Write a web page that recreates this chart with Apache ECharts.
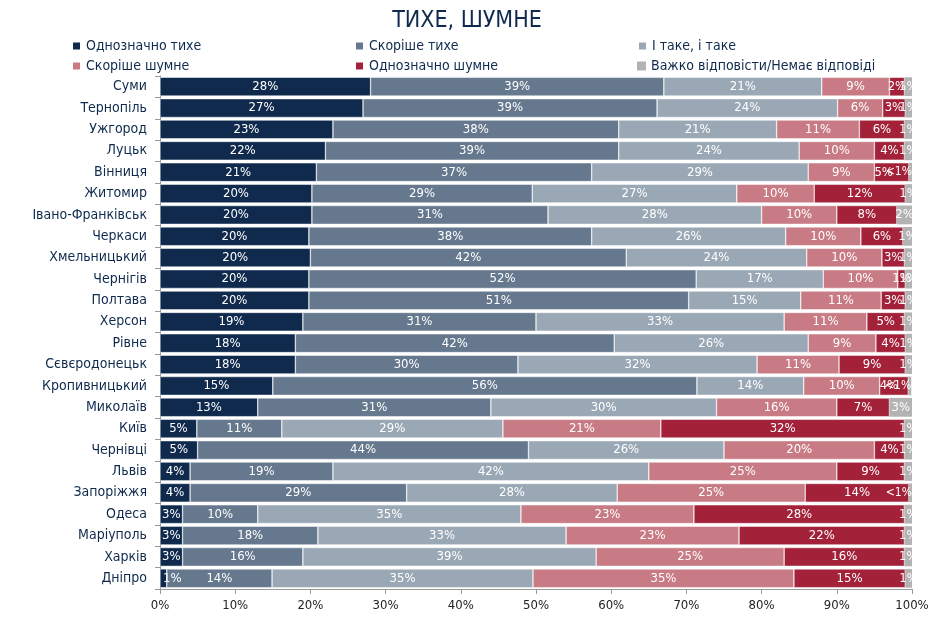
<!DOCTYPE html>
<html><head><meta charset="utf-8">
<script src="https://cdn.jsdelivr.net/npm/echarts@6/dist/echarts.min.js"></script>
<style>html,body{margin:0;padding:0;background:#fff}#c{width:934px;height:618px}</style>
</head><body><div id="c"></div>
<script>
const cities = ["Суми","Тернопіль","Ужгород","Луцьк","Вінниця","Житомир","Івано-Франківськ","Черкаси","Хмельницький","Чернігів","Полтава","Херсон","Рівне","Сєвєродонецьк","Кропивницький","Миколаїв","Київ","Чернівці","Львів","Запоріжжя","Одеса","Маріуполь","Харків","Дніпро"];
const seriesNames = ["Однозначно тихе","Скоріше тихе","І таке, і таке","Скоріше шумне","Однозначно шумне","Важко відповісти/Немає відповіді"];
const definitelyQuiet = [28,27,23,22,20.8,20.2,20.2,19.8,20,19.8,19.8,19,18,18,15,13,4.9,5,4,4,3,3,3,0.9];
const ratherQuiet     = [39,39.1,38,39,36.6,29.3,31.4,37.6,42,51.5,50.5,31,42.4,29.6,56.4,31,11.3,44,19,28.8,10,18,16,14];
const both            = [21,24,21,24,28.8,27.2,28.4,25.8,24,16.9,14.9,33,25.8,31.8,14.2,30,29.4,26,42,28,35,33,39,34.7];
const ratherNoisy     = [9,6,11,10,8.8,10.3,10,10,10,9.9,10.7,11,9,10.9,10.1,16,21,20,25,25,23,23,25,34.7];
const definitelyNoisy = [2,3,6,4,4.6,12.1,8,5.6,3,1,3.2,5,3.9,8.8,3.8,7,32.4,4,9,13.8,28,22,16,14.8];
const noAnswer        = [1,0.9,1,1,0.4,0.9,2,1.2,1,0.9,0.9,1,0.9,0.9,0.4,3,1,1,1,0.4,1,1,1,0.9];

const colors = ["#0f2a4d","#65788e","#9aa8b6","#c97b85","#a3223a","#b3b3b3"];
const allData = [definitelyQuiet,ratherQuiet,both,ratherNoisy,definitelyNoisy,noAnswer];
const font = "'DejaVu Sans Condensed','DejaVu Sans',sans-serif";
const navy = "#0f2a4d";

const legendPos = [[66,34],[349,34],[632,34],[66,54],[349,54],[632,54]];
const legends = seriesNames.map((n,i)=>({
  data:[n], left:legendPos[i][0], top:legendPos[i][1], itemWidth:9, itemHeight:9, itemGap:4,
  icon:'rect', textStyle:{fontFamily:font,fontSize:14,color:navy}, selectedMode:false
}));

function itemsFor(d, si){
  return d.map((v,k)=>{
    if (si===0 && v<1.5) return {value:v,label:{position:'insideLeft',distance:3}};
    if (si===4 && v<6 && noAnswer[k]<0.5) return {value:v,label:{position:'insideLeft',distance:0,offset:[-12,0]}};
    if (si===5 && v<0.5) return {value:v,label:{position:'insideRight',distance:0,fontSize:12}};
    return v;
  });
}

const chart = echarts.init(document.getElementById('c'));
chart.setOption({
  animation:false,
  title:{text:"ТИХЕ, ШУМНЕ", left:'center', top:5, textStyle:{fontFamily:font,fontSize:23,fontWeight:'normal',color:navy}},
  legend:legends,
  grid:{left:160,right:22,top:76,bottom:29},
  xAxis:{type:'value',min:0,max:100,interval:10,
    axisLine:{show:true,lineStyle:{color:'#999'}},
    axisTick:{show:true,length:5,lineStyle:{color:'#999'}},
    splitLine:{show:false},
    axisLabel:{formatter:v=>v+'%',fontFamily:font,fontSize:13,color:'#222',margin:10}},
  yAxis:{type:'category',data:cities,inverse:true,
    axisLine:{show:true,lineStyle:{color:'#999'}},
    axisTick:{show:true,length:5,lineStyle:{color:'#999'}},
    axisLabel:{fontFamily:font,fontSize:14,color:navy,margin:13}},
  series:allData.map((d,i)=>({
    name:seriesNames[i], type:'bar', stack:'all', data:itemsFor(d,i), barWidth:'88%',
    itemStyle:{color:colors[i],borderColor:'#fff',borderWidth:i===5?0:0.5},
    labelLayout:{hideOverlap:false},
    label:{show:true,position:'inside',color:'#fff',fontFamily:font,fontSize:13,overflow:'none',
      formatter:p=>p.value<0.5?'<1%':Math.round(p.value)+'%'}
  }))
});
</script></body></html>
